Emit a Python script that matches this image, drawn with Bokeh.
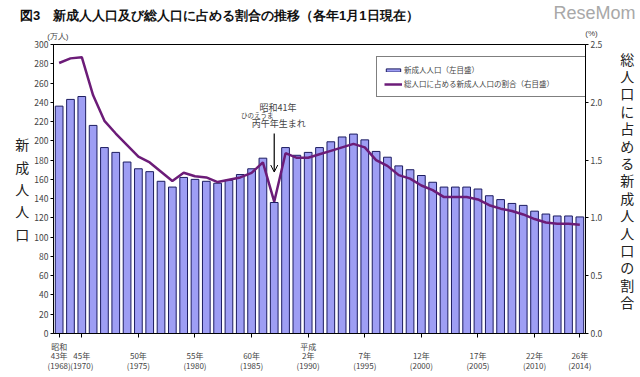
from bokeh.plotting import figure
from bokeh.models import (Range1d, LinearAxis, FixedTicker, PrintfTickFormatter, Label,
                          Arrow, OpenHead, Legend, LegendItem, ColumnDataSource)
from bokeh.embed import file_html
from bokeh.resources import INLINE

# ---- data ----
years = list(range(1968, 2015))
new_adults = [236, 243, 246, 216, 193, 188, 178, 171, 168, 158, 152, 162, 160, 158, 156,
              159, 165, 171, 182, 136, 193, 185, 188, 193, 199, 204, 207, 201, 189, 183,
              174, 170, 164, 157, 152, 152, 152, 150, 143, 139, 135, 133, 127, 124, 122,
              122, 121]  # 万人
ratio = [2.34, 2.38, 2.39, 2.06, 1.84, 1.73, 1.63, 1.53, 1.48, 1.40, 1.32, 1.39, 1.36, 1.35,
         1.31, 1.33, 1.35, 1.39, 1.48, 1.14, 1.56, 1.52, 1.52, 1.55, 1.58, 1.61, 1.64, 1.61,
         1.50, 1.45, 1.37, 1.34, 1.28, 1.24, 1.18, 1.18, 1.18, 1.16, 1.11, 1.08, 1.06, 1.03,
         0.99, 0.96, 0.95, 0.95, 0.94]  # %

tick_years = [1968, 1970, 1975, 1980, 1985, 1990, 1995, 2000, 2005, 2010, 2014]
tick_labels = ["昭和\n43年\n(1968)", " \n45年\n(1970)", " \n50年\n(1975)", " \n55年\n(1980)",
               " \n60年\n(1985)", "平成\n2年\n(1990)", " \n7年\n(1995)", " \n12年\n(2000)",
               " \n17年\n(2005)", " \n22年\n(2010)", " \n26年\n(2014)"]
left_ticks = list(range(0, 301, 20))
right_ticks = [0.0, 0.5, 1.0, 1.5, 2.0, 2.5]

title_text = "図3　新成人人口及び総人口に占める割合の推移（各年1月1日現在）"
left_title = "新成人人口"
right_title = "総人口に占める新成人人口の割合"
legend_labels = ["新成人人口（左目盛）", "総人口に占める新成人人口の割合（右目盛）"]

FONT = "Noto Sans CJK JP"
SMALLFONT = "Liberation Sans"  # compact metrics; CJK glyphs fall back to a CJK font

src = ColumnDataSource(dict(year=years, adults=new_adults, ratio=ratio))

p = figure(width=640, height=377, x_range=Range1d(1967.5, 2014.5), y_range=Range1d(0, 300),
           output_backend="svg", toolbar_location=None,
           min_border_left=52, min_border_right=55, min_border_top=44, min_border_bottom=44)
p.extra_y_ranges = {"pct": Range1d(0, 2.5)}
p.grid.visible = False
p.outline_line_color = "black"
p.outline_line_width = 1
p.background_fill_color = "white"
p.border_fill_color = "white"

bars = p.vbar(x="year", top="adults", width=0.68, source=src,
              fill_color="#9e9ef4", line_color="#1c1c60", line_width=1)
line = p.line(x="year", y="ratio", source=src, y_range_name="pct",
              line_color="#6c1c78", line_width=2.5)

# x axis
xa = p.xaxis[0]
xa.ticker = FixedTicker(ticks=tick_years)
xa.major_label_overrides = {y: l for y, l in zip(tick_years, tick_labels)}
xa.major_label_text_font = FONT
xa.major_label_text_font_size = "8px"
xa.major_label_text_line_height = 0.9
xa.major_label_standoff = 3
xa.major_tick_out = 4
xa.major_tick_in = 0
xa.minor_tick_out = 0
xa.minor_tick_in = 0
xa.axis_line_color = "black"

# left axis
ya = p.yaxis[0]
ya.ticker = FixedTicker(ticks=left_ticks)
ya.major_label_text_font = FONT
ya.major_label_text_font_size = "8.5px"
ya.major_label_standoff = 2
ya.major_tick_out = 3
ya.major_tick_in = 0
ya.minor_tick_out = 0
ya.minor_tick_in = 0
ya.axis_label = "\n".join(left_title)
ya.axis_label_orientation = "horizontal"
ya.axis_label_text_font = FONT
ya.axis_label_text_font_size = "14px"
ya.axis_label_text_font_style = "normal"
ya.axis_label_text_line_height = 1.12
ya.axis_label_standoff = 2
ya.axis_label_text_color = "#222222"

# right axis
ra = LinearAxis(y_range_name="pct", ticker=FixedTicker(ticks=right_ticks),
                formatter=PrintfTickFormatter(format="%.1f"))
ra.major_label_text_font = FONT
ra.major_label_text_font_size = "8.5px"
ra.major_label_standoff = 2
ra.major_tick_out = 3
ra.major_tick_in = 0
ra.minor_tick_out = 0
ra.minor_tick_in = 0
ra.axis_label = "\n".join(right_title) + "\n "
ra.axis_label_orientation = "horizontal"
ra.axis_label_text_font = FONT
ra.axis_label_text_font_size = "14px"
ra.axis_label_text_font_style = "normal"
ra.axis_label_text_line_height = 0.87
ra.axis_label_standoff = 15
ra.axis_label_text_color = "#222222"
p.add_layout(ra, "right")

# legend
legend = Legend(items=[LegendItem(label=legend_labels[0], renderers=[bars]),
                       LegendItem(label=legend_labels[1], renderers=[line])],
                location=(323, 236))
legend.border_line_color = "black"
legend.border_line_width = 1
legend.label_text_font = FONT
legend.label_text_font_size = "7.5px"
legend.glyph_width = 18
legend.glyph_height = 4
legend.label_height = 9
legend.label_width = 178
legend.label_standoff = 2
legend.spacing = 3
legend.padding = 7
legend.margin = 0
legend.background_fill_alpha = 1
p.add_layout(legend)

# title, unit labels, watermark (outside the frame -> side panels, so not clipped)
p.add_layout(Label(x=1964.53, y=330.1, text=title_text, text_font=SMALLFONT,
                   text_font_size="13px", text_font_style="bold", text_align="left",
                   text_baseline="middle", text_color="#111111"), "above")
p.add_layout(Label(x=1967.88, y=308.3, text="(万人)", text_font=SMALLFONT, text_font_size="8px",
                   text_align="center", text_baseline="middle"), "above")
p.add_layout(Label(x=2011.68, y=332.7, text="ReseMom", text_font=SMALLFONT,
                   text_font_size="18px", text_align="left", text_baseline="middle",
                   text_color="#a8a8a8"), "above")
p.add_layout(Label(x=2015.03, y=311.4, text="(%)", text_font=SMALLFONT, text_font_size="8px",
                   text_align="center", text_baseline="middle"), "left")

# annotation for 1987
p.add_layout(Label(x=1987.33, y=235.0, text="昭和41年", text_font=FONT, text_font_size="9px",
                   text_align="center", text_baseline="middle"))
p.add_layout(Label(x=1985.5, y=227.3, text="ひのえうま", text_font=FONT, text_font_size="6.5px",
                   text_align="center", text_baseline="middle"))
p.add_layout(Label(x=1987.41, y=218.0, text="丙午年生まれ", text_font=FONT, text_font_size="9px",
                   text_align="center", text_baseline="middle"))
p.add_layout(Arrow(end=OpenHead(size=7, line_width=1, line_color="black"),
                   x_start=1987, y_start=207.6, x_end=1987, y_end=167.6,
                   line_width=1.2, line_color="black"))

open("out.html", "w").write(file_html(p, INLINE))
